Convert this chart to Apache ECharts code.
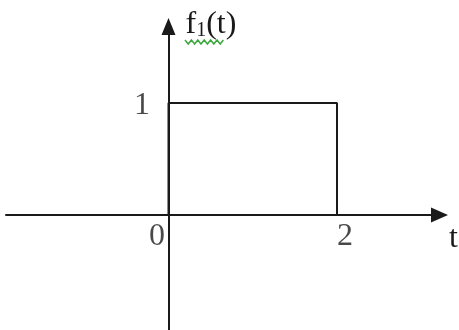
<!DOCTYPE html>
<html>
<head>
<meta charset="utf-8">
<script src="https://cdn.jsdelivr.net/npm/echarts@6/dist/echarts.min.js"></script>
<style>
  html, body { margin: 0; padding: 0; background: #fff; }
  #chart { width: 459px; height: 330px; }
</style>
</head>
<body>
<div id="chart"></div>
<script>
// pulse f1(t): 1 on [0, 2], 0 elsewhere
const pulseT = [0, 0, 2, 2];
const pulseF = [0, 1, 1, 0];
// tick labels drawn at these points of the plane
const tickT = [0, 2, 0];
const tickF = [0, 0, 1];
const tickText = ['0', '2', '1'];
const xName = 't';
const yName = 'f1(t)';

const ink = '#1a1a1a';
const serif = '"Liberation Serif", "DejaVu Serif", serif';

var pulse = [];
for (var i = 0; i < pulseT.length; i++) {
    pulse.push([pulseT[i], pulseF[i]]);
}

// where each tick label sits relative to its point
var tickOffsets = [[-11.5, 22], [8, 22], [-26.5, 3]];
var ticks = [];
for (var j = 0; j < tickT.length; j++) {
    ticks.push({
        value: [tickT[j], tickF[j]],
        name: tickText[j],
        label: { offset: tickOffsets[j] }
    });
}

var chartDom = document.getElementById('chart');
var myChart = echarts.init(chartDom, null, { renderer: 'canvas' });

// green spell-check squiggle under the y name
var squiggle = [];
for (var k = 0; k <= 12; k++) {
    squiggle.push([185 + k * 3.2, k % 2 ? 44 : 40]);
}

var option = {
    animation: false,
    backgroundColor: '#fff',
    grid: {
        left: 6, right: 19.5, top: 26.5, bottom: 0,
        containLabel: false,
        outerBoundsMode: 'none'
    },
    xAxis: {
        type: 'value',
        min: -1.929,
        max: 3.217,
        splitLine: { show: false },
        axisTick: { show: false },
        axisLabel: { show: false },
        axisLine: {
            onZero: true,
            symbol: ['none', 'triangle'],
            symbolSize: [15, 17],
            lineStyle: { color: ink, width: 2 }
        },
        name: xName,
        nameLocation: 'end',
        nameGap: 14,
        nameTextStyle: {
            fontFamily: serif,
            fontSize: 32,
            color: ink,
            align: 'center',
            verticalAlign: 'top',
            padding: [8, 0, 0, 0]
        }
    },
    yAxis: {
        type: 'value',
        min: -1.0268,
        max: 1.683,
        splitLine: { show: false },
        axisTick: { show: false },
        axisLabel: { show: false },
        axisLine: {
            onZero: true,
            symbol: ['none', 'triangle'],
            symbolSize: [14, 17],
            lineStyle: { color: ink, width: 2 }
        },
        name: '{f|f}{s|1}{f|(t)}',
        nameLocation: 'end',
        nameGap: 18,
        nameTextStyle: {
            align: 'left',
            verticalAlign: 'top',
            padding: [0, 0, 0, 17],
            rich: {
                f: { fontFamily: serif, fontSize: 32, color: ink },
                s: { fontFamily: serif, fontSize: 20, color: ink, verticalAlign: 'bottom', padding: [8, 0, 0, 0] }
            }
        }
    },
    series: [{
        type: 'line',
        data: pulse,
        showSymbol: false,
        lineStyle: { color: ink, width: 2 },
        z: 3
    }, {
        type: 'scatter',
        data: ticks,
        symbolSize: 0,
        silent: true,
        label: {
            show: true,
            position: 'inside',
            formatter: '{b}',
            fontFamily: serif,
            fontSize: 32,
            color: ink
        }
    }],
    graphic: [{
        type: 'polyline',
        shape: { points: squiggle },
        style: { stroke: '#3aa83a', lineWidth: 1.5, fill: null }
    }]
};

option && myChart.setOption(option);
</script>
</body>
</html>
